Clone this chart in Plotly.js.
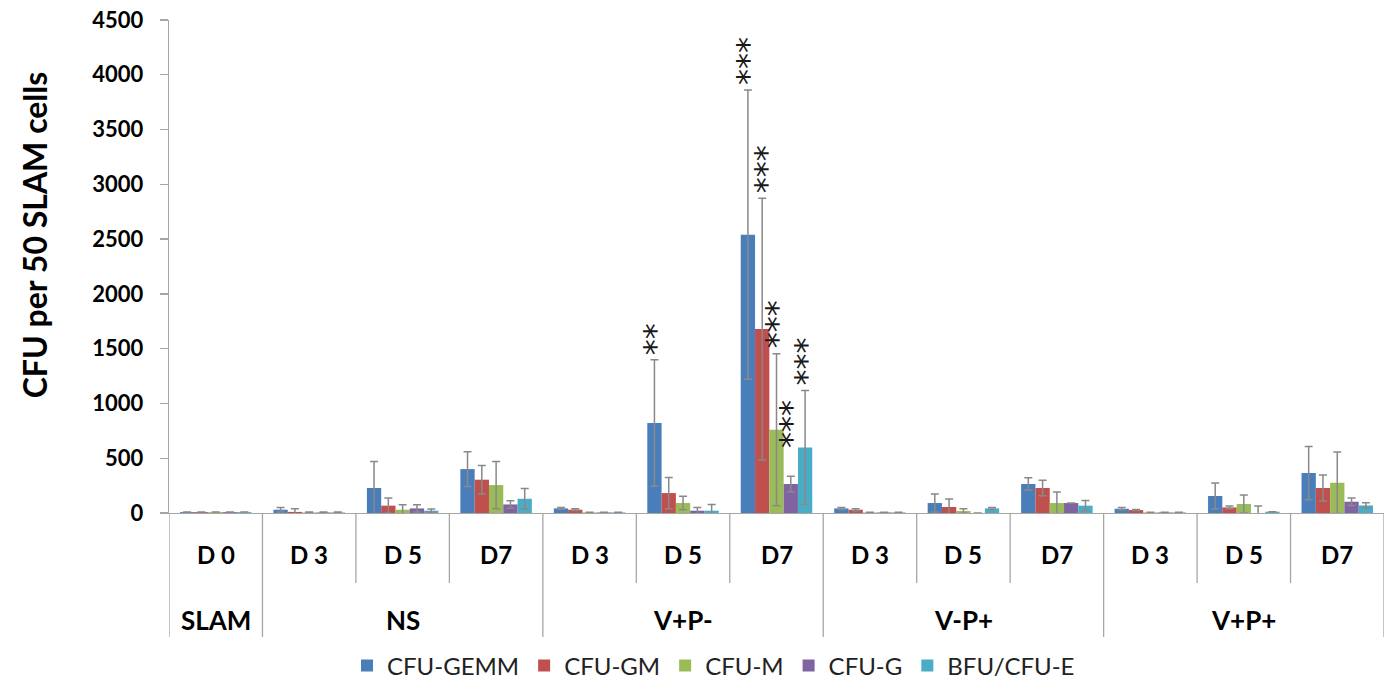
<!DOCTYPE html>
<html>
<head>
<meta charset="utf-8">
<script src="https://cdn.plot.ly/plotly-3.0.1.min.js"></script>
<style>html,body{margin:0;padding:0;background:#fff;}#chart{width:1391px;height:686px;}</style>
</head>
<body>
<div id="chart"></div>
<script>
// ---- data ----
const days = ['D 0','D 3','D 5','D7','D 3','D 5','D7','D 3','D 5','D7','D 3','D 5','D7'];
const groups = ['SLAM','NS','V+P-','V-P+','V+P+'];
const groupSizes = [1,3,3,3,3];
const seriesNames = ['CFU-GEMM','CFU-GM','CFU-M','CFU-G','BFU/CFU-E'];
const yTitle = 'CFU per 50 SLAM cells';

const gemm    = [8, 30, 228, 401, 42, 821, 2540, 42, 91, 265, 39, 155, 365];
const gemmErr = [0, 21, 243, 158, 8, 577, 1320, 9, 82, 57, 12, 119, 243];
const gm      = [8, 10, 67, 304, 30, 182, 1679, 30, 55, 228, 27, 51, 228];
const gmErr   = [0, 29, 70, 130, 8, 143, 1195, 9, 72, 70, 4, 12, 119];
const cfuM    = [8, 5, 30, 255, 5, 91, 760, 5, 18, 91, 5, 82, 276];
const cfuMErr = [0, 3, 46, 216, 2, 61, 693, 2, 21, 100, 2, 82, 281];
const cfuG    = [8, 5, 42, 78, 5, 21, 265, 5, 0, 91, 5, 0, 103];
const cfuGErr = [0, 3, 34, 34, 2, 29, 70, 2, 0, 0, 2, 64, 34];
const bfuE    = [8, 5, 21, 130, 5, 21, 598, 5, 42, 67, 5, 12, 69];
const bfuEErr = [0, 3, 15, 94, 2, 57, 520, 2, 9, 48, 2, 0, 25];

// significance marks: [category index, series index, label]
const stars = [[5,0,'**'],[6,0,'***'],[6,1,'***'],[6,2,'***'],[6,3,'***'],[6,4,'***']];

const yTicks = [0,500,1000,1500,2000,2500,3000,3500,4000,4500];

// ---- styling ----
const colors = ['#4a7ebb','#c0504d','#9bbb59','#8064a2','#4bacc6'];
const values = [gemm, gm, cfuM, cfuG, bfuE];
const errs = [gemmErr, gmErr, cfuMErr, cfuGErr, bfuEErr];
const FONT = 'Lato, "Open Sans", sans-serif';
const xIdx = days.map((d,i)=>i);
const bargap = 0.235;

const traces = values.map((v,k)=>({
  type:'bar', name: seriesNames[k], x: xIdx, y: v,
  marker:{color: colors[k], line:{width:0}},
  error_y:{type:'data', array: errs[k], visible:true, color:'#898989', thickness:1.5, width:4},
  hoverinfo:'skip'
}));

const shapes = [];
const annotations = [];
const groupEdges = [];
let acc = 0;
groupEdges.push(-0.5);
groupSizes.forEach(s=>{acc+=s; groupEdges.push(acc-0.5);});
for (let b=0; b<=days.length; b++){
  const xb = b-0.5;
  const isGroup = groupEdges.indexOf(xb) >= 0;
  shapes.push({type:'line', xref:'x', yref:'paper', x0:xb, x1:xb, y0:0, y1: isGroup ? -0.2515 : -0.142,
    line:{color:'#a6a6a6', width:1.3}});
}
days.forEach((d,i)=>{
  annotations.push({xref:'x', yref:'paper', x:i, y:-0.085, text:d, showarrow:false,
    font:{family:FONT, size:24, color:'#000', weight:'bold'}, xanchor:'center', yanchor:'middle'});
});
acc = 0;
groups.forEach((g,j)=>{
  const c = acc + (groupSizes[j]-1)/2;
  acc += groupSizes[j];
  annotations.push({xref:'x', yref:'paper', x:c, y:-0.218, text:g, showarrow:false,
    font:{family:FONT, size:26, color:'#000', weight:'bold'}, xanchor:'center', yanchor:'middle'});
});
const bw = (1-bargap)/5;
stars.forEach(([c,s,t])=>{
  const top = values[s][c] + errs[s][c];
  annotations.push({xref:'x', yref:'y', x: c + (s-2)*bw, y: top, text:t, showarrow:false,
    textangle:-90, font:{family:'DejaVu Sans', size:32, color:'#1a1a1a'},
    xanchor:'center', yanchor:'bottom', xshift: (s===1 ? 4 : 0), yshift: (s===3 ? 26 : 3)});
});
// y-axis title
annotations.push({xref:'paper', yref:'paper', x:-0.110, y:0.564, text:yTitle, showarrow:false,
  textangle:-90, xanchor:'center', yanchor:'middle',
  font:{family:FONT, size:32, color:'#000', weight:'bold'}});

const layout = {
  width:1391, height:686,
  margin:{l:169, r:7, t:20, b:173, autoexpand:false},
  paper_bgcolor:'#fff', plot_bgcolor:'#fff',
  barmode:'group', bargap:bargap, bargroupgap:0,
  showlegend:true,
  legend:{orientation:'h', x:0.1465, xanchor:'left', y:-0.31, yanchor:'middle',
    font:{family:FONT, size:24, color:'#222'}, traceorder:'normal'},
  xaxis:{type:'linear', range:[-0.5, 12.5], showticklabels:false, showgrid:false, zeroline:false,
    showline:true, linecolor:'#a6a6a6', linewidth:1.3, ticks:'', fixedrange:true},
  yaxis:{range:[0,4500], tickmode:'array', tickvals:yTicks, ticktext:yTicks.map(String),
    showgrid:false, zeroline:false, showline:true, linecolor:'#a6a6a6', linewidth:1.3,
    ticks:'outside', ticklen:8, tickcolor:'#a6a6a6', tickwidth:1.3, ticklabelstandoff:12,
    tickfont:{family:FONT, size:22, color:'#000', weight:'bold'}},
  shapes:shapes, annotations:annotations
};

Plotly.newPlot('chart', traces, layout, {staticPlot:true, displayModeBar:false});
</script>
</body>
</html>
